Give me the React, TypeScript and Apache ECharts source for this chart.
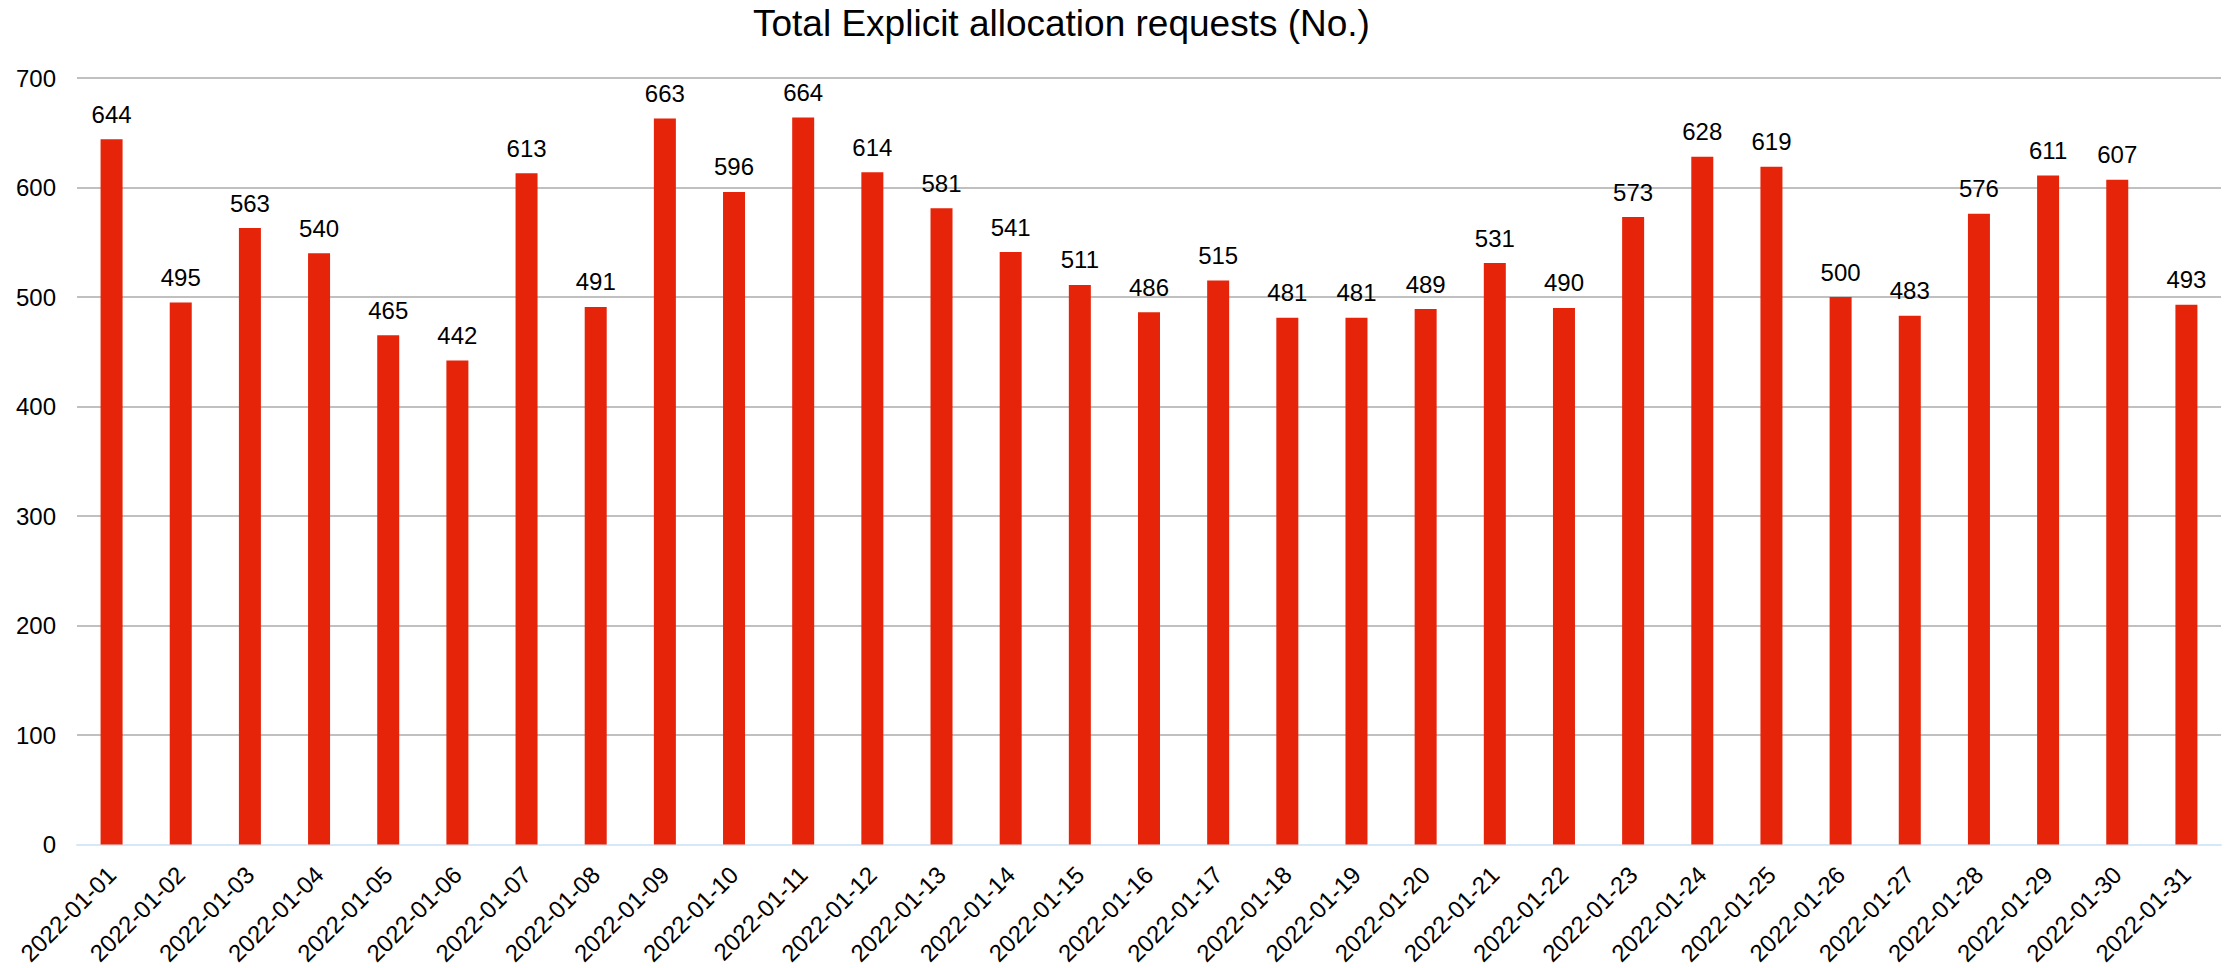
import React, { useEffect, useRef } from "react";
import * as echarts from "echarts";

const categories: string[] = [
  "2022-01-01", "2022-01-02", "2022-01-03", "2022-01-04", "2022-01-05", "2022-01-06",
  "2022-01-07", "2022-01-08", "2022-01-09", "2022-01-10", "2022-01-11", "2022-01-12",
  "2022-01-13", "2022-01-14", "2022-01-15", "2022-01-16", "2022-01-17", "2022-01-18",
  "2022-01-19", "2022-01-20", "2022-01-21", "2022-01-22", "2022-01-23", "2022-01-24",
  "2022-01-25", "2022-01-26", "2022-01-27", "2022-01-28", "2022-01-29", "2022-01-30",
  "2022-01-31",
];

const requests: number[] = [
  644, 495, 563, 540, 465, 442, 613, 491, 663, 596, 664, 614, 581, 541, 511, 486,
  515, 481, 481, 489, 531, 490, 573, 628, 619, 500, 483, 576, 611, 607, 493,
];

const titleText = "Total Explicit allocation requests (No.)";
const yMin = 0;
const yMax = 700;
const yInterval = 100;

const FONT = "Arial, 'Liberation Sans', Helvetica, sans-serif";

export default function App() {
  const ref = useRef<HTMLDivElement>(null);

  useEffect(() => {
    if (!ref.current) return;
    const chart = echarts.init(ref.current, undefined, { renderer: "svg" });
    chart.setOption({
      animation: false,
      backgroundColor: "#ffffff",
      textStyle: { fontFamily: FONT },
      title: {
        text: titleText,
        left: 753,
        top: 5,
        padding: 0,
        textStyle: { fontFamily: FONT, fontSize: 37, fontWeight: "normal", color: "#000000" },
      },
      grid: { left: 77, right: 5, top: 78, bottom: 118, containLabel: false },
      xAxis: {
        type: "category",
        data: categories,
        axisLine: { show: true, lineStyle: { color: "#d5e8f7", width: 2 } },
        axisTick: { show: false },
        axisLabel: {
          rotate: 45,
          interval: 0,
          margin: 26,
          fontSize: 24,
          color: "#000000",
          fontFamily: FONT,
        },
      },
      yAxis: {
        type: "value",
        min: yMin,
        max: yMax,
        interval: yInterval,
        axisLine: { show: false },
        axisTick: { show: false },
        splitLine: { show: true, lineStyle: { color: "#c0c0c0", width: 2 } },
        axisLabel: { fontSize: 24, color: "#000000", margin: 21, fontFamily: FONT },
      },
      series: [
        {
          type: "bar",
          data: requests,
          barWidth: 22,
          itemStyle: { color: "#e52409" },
          label: {
            show: true,
            position: "top",
            distance: 13,
            fontSize: 24,
            color: "#000000",
            fontFamily: FONT,
          },
        },
      ],
    });
    return () => chart.dispose();
  }, []);

  return (
    <div
      ref={ref}
      style={{ position: "fixed", left: 0, top: 0, width: 2226, height: 968, background: "#fff" }}
    />
  );
}
